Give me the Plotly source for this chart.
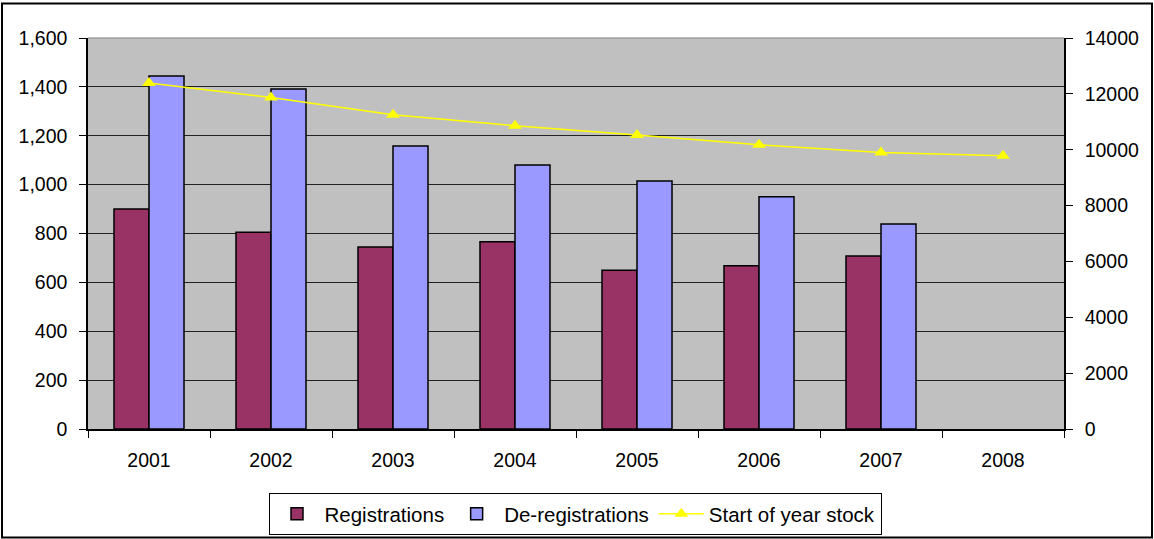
import plotly.graph_objects as go

# Annual vehicle register figures
years = ["2001", "2002", "2003", "2004", "2005", "2006", "2007", "2008"]
registrations = [900, 805, 745, 766, 650, 668, 708, None]
deregistrations = [1444, 1391, 1158, 1080, 1015, 950, 839, None]
start_stock = [12390, 11870, 11250, 10860, 10530, 10180, 9900, 9785]

W, H = 1154, 539
L, R, T, B = 88, 90, 38, 110
pw, ph = W - L - R, H - T - B

font = dict(family="Liberation Sans, Arial, sans-serif", size=19.5, color="#000000")

fig = go.Figure()
fig.add_trace(go.Bar(
    x=years, y=registrations, name="Registrations",
    marker=dict(color="#993366", line=dict(color="#000000", width=1.5)),
))
fig.add_trace(go.Bar(
    x=years, y=deregistrations, name="De-registrations",
    marker=dict(color="#9999FF", line=dict(color="#000000", width=1.5)),
))
fig.add_trace(go.Scatter(
    x=years, y=start_stock, name="Start of year stock", yaxis="y2",
    mode="lines+markers",
    line=dict(color="#FFFF00", width=1.5),
    marker=dict(symbol="triangle-up", size=12, color="#FFFF00"),
))


def px_to_paper_x(px):
    return (px - L) / pw


def px_to_paper_y(py):
    return (H - B - py) / ph


fig.update_layout(
    width=W, height=H,
    margin=dict(l=L, r=R, t=T, b=B, pad=0, autoexpand=False),
    paper_bgcolor="#FFFFFF",
    plot_bgcolor="#C0C0C0",
    font=font,
    barmode="group",
    bargap=0.426,
    bargroupgap=0,
    showlegend=True,
    legend=dict(
        orientation="h",
        xref="container", yref="container",
        x=575 / W, xanchor="center",
        y=1 - 493 / H, yanchor="top",
        bgcolor="#FFFFFF",
        bordercolor="#000000", borderwidth=1,
        font=dict(family=font["family"], size=20.5, color="#000000"),
        itemwidth=45,
        traceorder="normal",
    ),
    xaxis=dict(
        type="category",
        automargin=False,
        showgrid=False,
        showline=True, linecolor="#000000", linewidth=1.5,
        ticks="outside", tickson="boundaries", ticklen=7, tickcolor="#000000",
        ticklabelstandoff=13,
        fixedrange=True,
    ),
    yaxis=dict(
        range=[0, 1600], dtick=200, tickformat=",",
        automargin=False,
        showgrid=True, gridcolor="#222222", gridwidth=1,
        showline=True, linecolor="#000000", linewidth=1.5,
        ticks="outside", ticklen=7, tickcolor="#000000",
        ticklabelstandoff=8,
        zeroline=False,
    ),
    yaxis2=dict(
        overlaying="y", side="right",
        range=[0, 14000], dtick=2000, tickformat="d",
        automargin=False,
        showgrid=False,
        showline=True, linecolor="#000000", linewidth=1.5,
        ticks="outside", ticklen=7, tickcolor="#000000",
        ticklabelstandoff=8,
        zeroline=False,
    ),
    shapes=[
        # outer frame around the chart
        dict(type="rect", xref="paper", yref="paper",
             x0=px_to_paper_x(2), x1=px_to_paper_x(1152),
             y0=px_to_paper_y(537.5), y1=px_to_paper_y(3.5),
             line=dict(color="#000000", width=2), fillcolor="rgba(0,0,0,0)",
             layer="above"),
        # plot area top edge
        dict(type="line", xref="paper", yref="paper",
             x0=0, x1=1, y0=1, y1=1,
             line=dict(color="#808080", width=1)),
    ],
)

fig.write_html("out.html")
